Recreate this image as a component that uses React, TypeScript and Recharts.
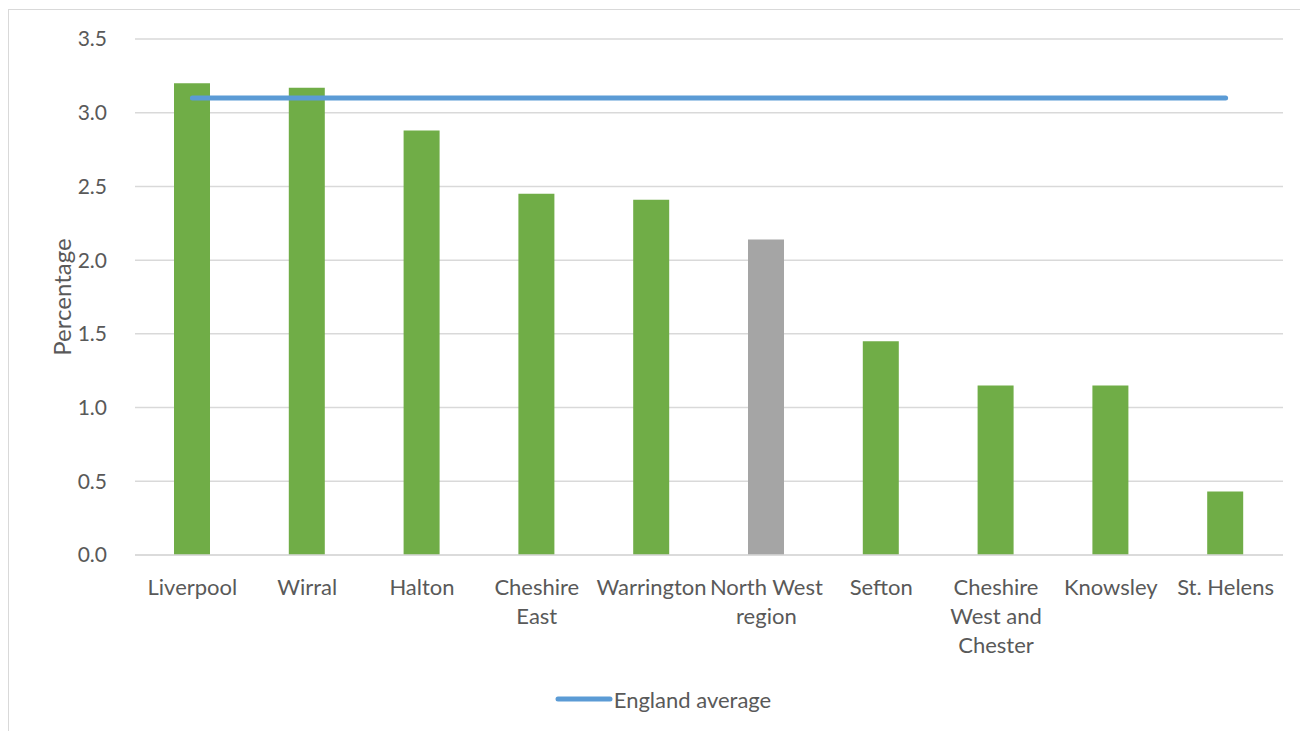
import React from 'react'
import {
  ComposedChart,
  Bar,
  Line,
  XAxis,
  YAxis,
  CartesianGrid,
  Legend,
  Cell,
  Label
} from 'recharts'

// areas, sorted as in the source chart
const categories = [
  'Liverpool',
  'Wirral',
  'Halton',
  'Cheshire East',
  'Warrington',
  'North West region',
  'Sefton',
  'Cheshire West and Chester',
  'Knowsley',
  'St. Helens'
]
const percentages = [3.2, 3.17, 2.88, 2.45, 2.41, 2.14, 1.45, 1.15, 1.15, 0.43]
const englandAverage = [3.1, 3.1, 3.1, 3.1, 3.1, 3.1, 3.1, 3.1, 3.1, 3.1]
const yTicks = [0, 0.5, 1, 1.5, 2, 2.5, 3, 3.5]

const FONT = 'Lato, "Open Sans", sans-serif'
const TEXT = '#595959'
const GRID = '#d9d9d9'
const GREEN = '#70ad47'
const GREY = '#a5a5a5'
const BLUE = '#5b9bd5'

const data = categories.map((name, i) => ({
  name,
  value: percentages[i],
  england: englandAverage[i]
}))

// greedy wrap, around 10 chars per line like the excel labels
function wrap(label: string, max = 10) {
  const words = label.split(' ')
  const lines: string[] = []
  let cur = ''
  words.forEach(w => {
    const next = cur ? cur + ' ' + w : w
    if (next.length > max && cur) {
      lines.push(cur)
      cur = w
    } else {
      cur = next
    }
  })
  if (cur) lines.push(cur)
  return lines
}

function CategoryTick({ x, y, payload }: any) {
  const lines = wrap(payload.value)
  return (
    <text x={x} y={y} textAnchor="middle" fill={TEXT} fontSize={22} fontFamily={FONT}>
      {lines.map((l, i) => (
        <tspan key={i} x={x} dy={i === 0 ? 32 : 29}>
          {l}
        </tspan>
      ))}
    </text>
  )
}

function LegendContent() {
  return (
    <div
      style={{
        height: 30,
        display: 'flex',
        alignItems: 'center',
        justifyContent: 'center',
        paddingLeft: 4,
        fontFamily: FONT,
        fontSize: 22,
        color: TEXT
      }}
    >
      <svg width={58} height={10} style={{ marginRight: 1 }}>
        <line x1={3} y1={5} x2={55} y2={5} stroke={BLUE} strokeWidth={5} strokeLinecap="round" />
      </svg>
      <span>England average</span>
    </div>
  )
}

export default function App() {
  return (
    <div
      style={{
        position: 'fixed',
        left: 8,
        top: 9,
        width: 1292,
        height: 722,
        borderTop: `1px solid ${GRID}`,
        borderLeft: `1px solid ${GRID}`,
        background: '#fff'
      }}
    >
      <ComposedChart
        width={1291}
        height={721}
        data={data}
        margin={{ top: 29, right: 17, bottom: 17, left: 30 }}
      >
        <CartesianGrid vertical={false} stroke={GRID} strokeWidth={1.5} />
        <XAxis
          dataKey="name"
          height={129}
          interval={0}
          tickLine={false}
          axisLine={{ stroke: GRID, strokeWidth: 1.5 }}
          tick={<CategoryTick />}
        />
        <YAxis
          width={96}
          domain={[0, 3.5]}
          ticks={yTicks}
          tickFormatter={(v: number) => v.toFixed(1)}
          axisLine={false}
          tickLine={false}
          tickMargin={22}
          tick={{ fill: TEXT, fontSize: 21, fontFamily: FONT }}
        >
          <Label
            content={({ viewBox }: any) => (
              <text
                x={viewBox.x + 22}
                y={viewBox.y + viewBox.height / 2}
                transform={`rotate(-90, ${viewBox.x + 22}, ${viewBox.y + viewBox.height / 2})`}
                textAnchor="middle"
                dominantBaseline="central"
                fill={TEXT}
                fontSize={24}
                fontFamily={FONT}
              >
                Percentage
              </text>
            )}
          />
        </YAxis>
        <Legend verticalAlign="bottom" content={<LegendContent />} />
        <Bar dataKey="value" barSize={36} legendType="none" isAnimationActive={false}>
          {data.map(d => (
            <Cell key={d.name} fill={d.name === 'North West region' ? GREY : GREEN} />
          ))}
        </Bar>
        <Line
          dataKey="england"
          name="England average"
          stroke={BLUE}
          strokeWidth={5}
          strokeLinecap="round"
          dot={false}
          activeDot={false}
          isAnimationActive={false}
        />
      </ComposedChart>
    </div>
  )
}
